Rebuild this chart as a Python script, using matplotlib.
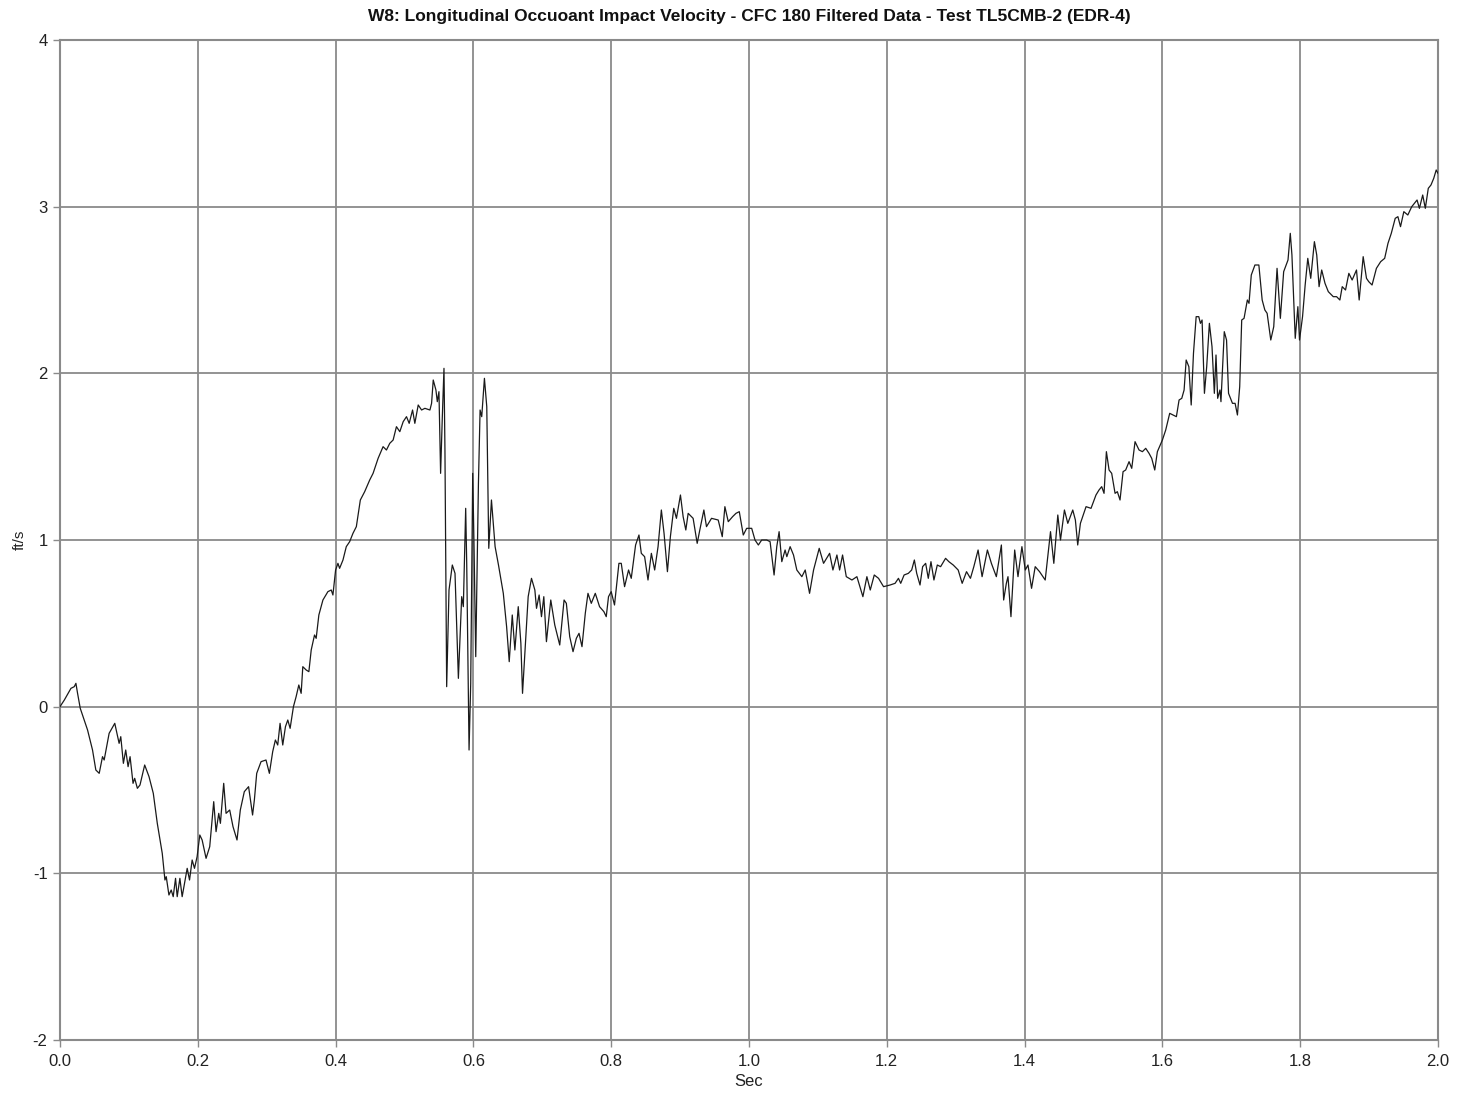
import matplotlib
matplotlib.use("Agg")
import matplotlib.pyplot as plt
import numpy as np

plt.rcParams['font.family'] = ['Liberation Sans Narrow', 'Liberation Sans', 'DejaVu Sans']
plt.rcParams['axes.unicode_minus'] = False

title = "W8: Longitudinal Occuoant Impact Velocity - CFC 180 Filtered Data - Test TL5CMB-2 (EDR-4)"
x_label = "Sec"
y_label = "ft/s"
x_ticks = [0.0, 0.2, 0.4, 0.6, 0.8, 1.0, 1.2, 1.4, 1.6, 1.8, 2.0]
x_tick_labels = ["0.0", "0.2", "0.4", "0.6", "0.8", "1.0", "1.2", "1.4", "1.6", "1.8", "2.0"]
y_ticks = [-2, -1, 0, 1, 2, 3, 4]

time_s = [
    0.0, 0.0063, 0.0159, 0.0207, 0.0231, 0.0255, 0.0294, 0.0400, 0.0472, 0.0520,
    0.0569, 0.0617, 0.0641, 0.0713, 0.0795, 0.0858, 0.0882, 0.0920, 0.0954, 0.0988,
    0.1017, 0.1060, 0.1084, 0.1123, 0.1161, 0.1229, 0.1292, 0.1354, 0.1412, 0.1484,
    0.1523, 0.1542, 0.1581, 0.1614, 0.1643, 0.1677, 0.1701, 0.1740, 0.1773, 0.1807,
    0.1846, 0.1880, 0.1918, 0.1952, 0.1990, 0.2029, 0.2063, 0.2120, 0.2173, 0.2231,
    0.2265, 0.2304, 0.2328, 0.2376, 0.2410, 0.2463, 0.2511, 0.2569, 0.2617, 0.2675,
    0.2737, 0.2795,
    0.2821, 0.2855, 0.2918, 0.2990, 0.3039, 0.3087, 0.3126, 0.3160, 0.3194, 0.3233,
    0.3272, 0.3306, 0.3340, 0.3388, 0.3427, 0.3466, 0.3500, 0.3524, 0.3573, 0.3612,
    0.3646, 0.3694, 0.3718, 0.3757, 0.3816, 0.3888, 0.3937, 0.3961, 0.4000, 0.4034,
    0.4058, 0.4107, 0.4155, 0.4204, 0.4252, 0.4301, 0.4359, 0.4422, 0.4495, 0.4544,
    0.4617, 0.4689, 0.4738, 0.4786, 0.4835, 0.4883, 0.4932, 0.4981, 0.5029, 0.5068,
    0.5117, 0.5150, 0.5199, 0.5248, 0.5296, 0.5369, 0.5393, 0.5417, 0.5456, 0.5476,
    0.5500, 0.5524, 0.5549, 0.5573, 0.5587, 0.5612, 0.5646, 0.5694, 0.5733, 0.5782,
    0.5830, 0.5854, 0.5888, 0.5903, 0.5937, 0.5961, 0.5990, 0.6010, 0.6034, 0.6073,
    0.6097, 0.6121, 0.6160, 0.6194, 0.6223, 0.6262, 0.6315, 0.6364,
    0.6434, 0.6482, 0.6520, 0.6564, 0.6602, 0.6651, 0.6689, 0.6713, 0.6747, 0.6795,
    0.6843, 0.6892, 0.6916, 0.6954, 0.6988, 0.7022, 0.7060, 0.7123, 0.7181, 0.7253,
    0.7316, 0.7349, 0.7398, 0.7446, 0.7494, 0.7533, 0.7576, 0.7624, 0.7663, 0.7711,
    0.7769, 0.7831, 0.7894, 0.7928, 0.7961, 0.8000, 0.8048,
    0.8112, 0.8146, 0.8194, 0.8252, 0.8291, 0.8354, 0.8403, 0.8437, 0.8485, 0.8534,
    0.8583, 0.8631, 0.8680, 0.8728, 0.8767, 0.8816, 0.8859, 0.8908, 0.8947, 0.9005,
    0.9044, 0.9083, 0.9117, 0.9189, 0.9248, 0.9286, 0.9345, 0.9383, 0.9456, 0.9553,
    0.9612, 0.9650, 0.9699, 0.9762, 0.9811, 0.9859, 0.9917, 0.9966, 1.0039, 1.0087,
    1.0136, 1.0184, 1.0257, 1.0306, 1.0364, 1.0403, 1.0437, 1.0476, 1.0524, 1.0549,
    1.0597, 1.0646, 1.0694, 1.0767, 1.0816, 1.0879, 1.0937, 1.1019, 1.1082, 1.1170,
    1.1218, 1.1276, 1.1315, 1.1358, 1.1412, 1.1494, 1.1566, 1.1653, 1.1711, 1.1760,
    1.1818, 1.1880, 1.1953,
    1.2048, 1.2120, 1.2169, 1.2202, 1.2251, 1.2313, 1.2361, 1.2400, 1.2434, 1.2482,
    1.2520, 1.2564, 1.2602, 1.2641, 1.2684, 1.2733, 1.2781, 1.2853, 1.2901, 1.2964,
    1.3036, 1.3094, 1.3157, 1.3214, 1.3263, 1.3325, 1.3383, 1.3460, 1.3518, 1.3590,
    1.3663, 1.3696, 1.3735, 1.3759, 1.3802, 1.3856, 1.3904, 1.3961, 1.4010, 1.4049,
    1.4101, 1.4154, 1.4217, 1.4299, 1.4376, 1.4424, 1.4482, 1.4521, 1.4578, 1.4627,
    1.4699, 1.4737, 1.4771, 1.4810, 1.4892, 1.4964, 1.5036,
    1.5080, 1.5119, 1.5153, 1.5187, 1.5226, 1.5264, 1.5313, 1.5346, 1.5385, 1.5429,
    1.5467, 1.5516, 1.5555, 1.5603, 1.5661, 1.5710, 1.5758, 1.5806, 1.5845, 1.5889,
    1.5927, 1.6000, 1.6048, 1.6106, 1.6155, 1.6203, 1.6242, 1.6281, 1.6315,
    1.6345, 1.6384, 1.6418, 1.6451, 1.6490, 1.6528, 1.6552, 1.6576, 1.6610, 1.6643,
    1.6682, 1.6720, 1.6754, 1.6778, 1.6802, 1.6835, 1.6850, 1.6898, 1.6931, 1.6960,
    1.7017, 1.7055, 1.7089, 1.7122, 1.7151, 1.7185, 1.7233, 1.7257, 1.7290, 1.7343,
    1.7400, 1.7448, 1.7487, 1.7520, 1.7573, 1.7616, 1.7664, 1.7712, 1.7760, 1.7823,
    1.7856, 1.7880, 1.7928, 1.7966, 1.7990, 1.8034, 1.8072, 1.8110, 1.8153, 1.8206,
    1.8240, 1.8274, 1.8312, 1.8360, 1.8408, 1.8480, 1.8528, 1.8576, 1.8610, 1.8658,
    1.8706, 1.8754, 1.8817, 1.8856, 1.8914, 1.8962, 1.8995, 1.9043, 1.9106, 1.9168,
    1.9226, 1.9274, 1.9322, 1.9379, 1.9418, 1.9456, 1.9504, 1.9562, 1.9619, 1.9658,
    1.9696, 1.9730, 1.9778, 1.9816, 1.9859, 1.9898, 1.9938, 1.9974, 2.0,
]

velocity_fps = [
    0.00, 0.04, 0.11, 0.12, 0.14, 0.08, -0.01, -0.14, -0.26, -0.38,
    -0.40, -0.30, -0.32, -0.16, -0.10, -0.22, -0.18, -0.34, -0.26, -0.36,
    -0.30, -0.46, -0.43, -0.49, -0.47, -0.35, -0.42, -0.52, -0.70, -0.88,
    -1.04, -1.02, -1.13, -1.10, -1.14, -1.03, -1.14, -1.03, -1.14, -1.06,
    -0.97, -1.04, -0.92, -0.97, -0.90, -0.77, -0.80, -0.91, -0.84, -0.57,
    -0.75, -0.64, -0.70, -0.46, -0.64, -0.62, -0.72, -0.80, -0.62, -0.51,
    -0.48, -0.65,
    -0.56, -0.40, -0.33, -0.32, -0.40, -0.27, -0.20, -0.23, -0.10, -0.23,
    -0.12, -0.08, -0.13, 0.00, 0.06, 0.13, 0.08, 0.24, 0.22, 0.21,
    0.34, 0.43, 0.41, 0.55, 0.64, 0.69, 0.70, 0.67, 0.82, 0.86,
    0.83, 0.88, 0.96, 0.99, 1.04, 1.08, 1.24, 1.29, 1.36, 1.40,
    1.49, 1.56, 1.54, 1.58, 1.60, 1.68, 1.65, 1.71, 1.74, 1.70,
    1.78, 1.70, 1.81, 1.78, 1.79, 1.78, 1.82, 1.96, 1.90, 1.83,
    1.89, 1.40, 1.74, 2.03, 1.54, 0.12, 0.70, 0.85, 0.80, 0.17,
    0.66, 0.60, 1.19, 0.86, -0.26, 0.14, 1.40, 0.94, 0.30, 1.34,
    1.78, 1.74, 1.97, 1.80, 0.95, 1.24, 0.96, 0.85,
    0.68, 0.48, 0.27, 0.55, 0.34, 0.60, 0.38, 0.08, 0.32, 0.66,
    0.77, 0.70, 0.59, 0.67, 0.54, 0.66, 0.39, 0.64, 0.49, 0.37,
    0.64, 0.62, 0.42, 0.33, 0.41, 0.44, 0.36, 0.56, 0.68, 0.62,
    0.68, 0.60, 0.57, 0.54, 0.66, 0.69, 0.61,
    0.86, 0.86, 0.72, 0.82, 0.77, 0.97, 1.03, 0.92, 0.90, 0.76,
    0.92, 0.82, 0.96, 1.18, 1.04, 0.81, 1.02, 1.19, 1.13, 1.27,
    1.14, 1.06, 1.16, 1.13, 0.98, 1.06, 1.18, 1.08, 1.13, 1.12,
    1.02, 1.20, 1.11, 1.14, 1.16, 1.17, 1.03, 1.07, 1.07, 1.00,
    0.97, 1.00, 1.00, 0.99, 0.79, 0.96, 1.05, 0.87, 0.94, 0.90,
    0.96, 0.91, 0.82, 0.78, 0.82, 0.68, 0.82, 0.95, 0.86, 0.92,
    0.82, 0.91, 0.82, 0.91, 0.78, 0.76, 0.78, 0.66, 0.78, 0.70,
    0.79, 0.77, 0.72,
    0.73, 0.74, 0.77, 0.74, 0.79, 0.80, 0.82, 0.88, 0.80, 0.73,
    0.84, 0.86, 0.77, 0.87, 0.76, 0.85, 0.84, 0.89, 0.87, 0.85,
    0.82, 0.74, 0.81, 0.77, 0.84, 0.94, 0.78, 0.94, 0.86, 0.78,
    0.97, 0.64, 0.74, 0.78, 0.54, 0.94, 0.78, 0.96, 0.82, 0.85,
    0.71, 0.84, 0.81, 0.76, 1.05, 0.86, 1.15, 1.00, 1.18, 1.10,
    1.18, 1.12, 0.97, 1.10, 1.20, 1.19, 1.27,
    1.30, 1.32, 1.28, 1.53, 1.42, 1.40, 1.28, 1.29, 1.24, 1.41,
    1.42, 1.47, 1.43, 1.59, 1.54, 1.53, 1.55, 1.52, 1.49, 1.42,
    1.53, 1.60, 1.66, 1.76, 1.75, 1.74, 1.84, 1.85, 1.90,
    2.08, 2.04, 1.81, 2.12, 2.34, 2.34, 2.30, 2.32, 1.88, 2.04,
    2.30, 2.16, 1.88, 2.11, 1.85, 1.90, 1.83, 2.25, 2.20, 1.88,
    1.82, 1.82, 1.75, 1.92, 2.32, 2.33, 2.44, 2.42, 2.59, 2.65,
    2.65, 2.44, 2.38, 2.36, 2.20, 2.28, 2.63, 2.33, 2.61, 2.68,
    2.84, 2.71, 2.21, 2.40, 2.20, 2.34, 2.53, 2.69, 2.57, 2.79,
    2.71, 2.52, 2.62, 2.54, 2.49, 2.46, 2.46, 2.44, 2.52, 2.50,
    2.60, 2.56, 2.62, 2.44, 2.70, 2.57, 2.55, 2.53, 2.63, 2.67,
    2.69, 2.78, 2.84, 2.93, 2.94, 2.88, 2.97, 2.95, 3.00, 3.02,
    3.04, 2.99, 3.07, 2.99, 3.11, 3.13, 3.17, 3.22, 3.20,
]

W, H = 1459, 1097
fig = plt.figure(figsize=(W / 100, H / 100), dpi=100)
left, right, top, bottom = 60, 1438, 40, 1040
ax = fig.add_axes([left / W, 1 - bottom / H, (right - left) / W, (bottom - top) / H])

grid_col = "#8a8a8a"
ax.plot(time_s, velocity_fps, color="#1a1a1a", linewidth=0.9, zorder=3)

ax.set_xlim(0, 2.0)
ax.set_ylim(-2, 4)
ax.set_xticks(x_ticks)
ax.set_xticklabels(x_tick_labels)
ax.set_yticks(y_ticks)

ax.grid(True, color=grid_col, linewidth=1.3, zorder=1)
for s in ax.spines.values():
    s.set_color(grid_col)
    s.set_linewidth(1.5)

ax.tick_params(axis="both", which="major", direction="out", length=5, width=1,
               color=grid_col, labelsize=12, labelcolor="#222222", pad=4)
ax.tick_params(axis="x", pad=5)

ax.set_xlabel(x_label, fontsize=12, color="#222222", labelpad=4)
ax.set_ylabel(y_label, fontsize=11, color="#222222")
ax.yaxis.set_label_coords(-0.024, 0.5)
ax.set_title(title, fontsize=12.5, fontweight="bold", color="#111111", pad=14)

fig.savefig("out.png", dpi=100, facecolor="white")
